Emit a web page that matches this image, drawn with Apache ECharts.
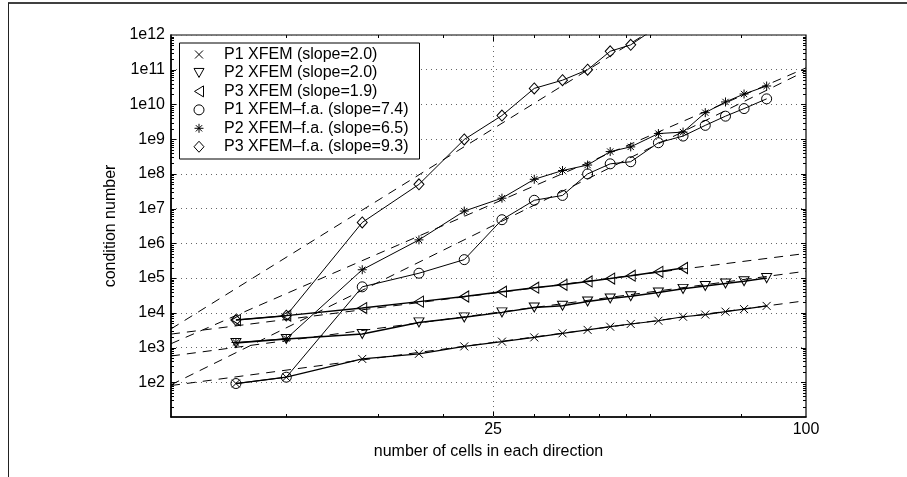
<!DOCTYPE html>
<html>
<head>
<meta charset="utf-8">
<script src="https://cdn.jsdelivr.net/npm/echarts@6/dist/echarts.min.js"></script>
<style>
html,body{margin:0;padding:0;background:#fff;}
#chart{width:907px;height:477px;}
</style>
</head>
<body>
<div id="chart"></div>
<script>
// ---- data ----
const cells = [8, 10, 14, 18, 22, 26, 30, 34, 38, 42, 46, 52, 58, 64, 70, 76, 84];
const p1Xfem = [92, 140, 470, 660, 1080, 1480, 1960, 2570, 3220, 3980, 4770, 5900, 7700, 8900, 10800, 12800, 15800];
const p2Xfem = [1350, 1770, 2450, 5300, 7400, 10300, 14300, 16000, 21300, 25800, 30000, 38600, 49000, 59000, 70000, 81000, 100000];
const p3Xfem = [6200, 8300, 13700, 21000, 29500, 40500, 53000, 64000, 80000, 97000, 117000, 152000, 195000];
const p1Fa = [92, 140, 56000, 138000, 340000, 4.8e6, 1.74e7, 2.4e7, 1.0e8, 1.95e8, 2.24e8, 7.9e8, 1.23e9, 2.5e9, 4.6e9, 7.6e9, 1.45e10];
const p2Fa = [1400, 1800, 1.74e5, 1.26e6, 8.5e6, 2.0e7, 7.0e7, 1.25e8, 1.8e8, 4.4e8, 6.0e8, 1.45e9, 1.6e9, 5.8e9, 1.18e10, 2.0e10, 3.4e10];
const p3Fa = [6200, 8300, 4.0e6, 5.0e7, 9.8e8, 4.8e9, 2.9e10, 5.0e10, 1.0e11, 3.4e11, 5.2e11, 1.8e12];
// dashed reference (fit) lines: value at left end and right end
const fitX = [6, 100];
const fitP1Xfem = [80.5, 22400];
const fitP2Xfem = [570, 158000];
const fitP3Xfem = [2440, 513000];
const fitP1Fa = [84.5, 9.3e10];
const fitP2Fa = [1290, 1.13e11];
const fitP3Fa = [3440, 7.9e14];
const legendNames = ['P1 XFEM (slope=2.0)', 'P2 XFEM (slope=2.0)', 'P3 XFEM (slope=1.9)',
  'P1 XFEM\u2013f.a. (slope=7.4)', 'P2 XFEM\u2013f.a. (slope=6.5)', 'P3 XFEM\u2013f.a. (slope=9.3)'];
const xTickLabels = [25, 100];
const xMinorTicks = [10, 15, 20, 30, 35, 40, 45, 50, 75];
const X_MIN = 6, X_MAX = 100, Y_MIN = 10, Y_MAX = 1e12;

// ---- styling ----
const FONT = '"Liberation Sans", Arial, Helvetica, sans-serif';
const PATHS = {
  x: 'path://M0,0L10,10M10,0L0,10',
  tdown: 'path://M0,0L10,0L5,9Z',
  tleft: 'path://M9,0L9,10L0,5Z',
  circle: 'circle',
  star: 'path://M5,0L5,10M0,5L10,5M1.5,1.5L8.5,8.5M8.5,1.5L1.5,8.5',
  diamond: 'path://M5,0L10,5L5,10L0,5Z'
};
const symSize = {x: [8, 8], tdown: [10, 9], tleft: [9, 11], circle: [10, 10], star: [9, 9], diamond: [10, 11]};
const legendSyms = ['x', 'tdown', 'tleft', 'circle', 'star', 'diamond'];
const markerStyle = {color: 'rgba(0,0,0,0)', borderColor: '#000', borderWidth: 1};

function pairs(xs, ys) { return ys.map((v, i) => [xs[i], v]); }

function dataSeries(name, ys, sym, lw) {
  return {
    name: name, type: 'line', data: pairs(cells, ys),
    symbol: PATHS[sym], symbolSize: symSize[sym],
    showSymbol: true, showAllSymbol: true,
    lineStyle: {color: '#000', width: lw}, itemStyle: markerStyle,
    clip: true, z: 5, silent: true
  };
}
function fitSeries(ys) {
  return {
    type: 'line', data: pairs(fitX, ys), symbol: 'none', clip: true, silent: true, z: 3,
    lineStyle: {color: '#000', width: 1, type: [9, 7]}
  };
}

// tick positions (axis decoration)
const yTicks = [];
for (let d = 1; d <= 11; d++) {
  for (let m = 1; m <= 9; m++) {
    const v = m * Math.pow(10, d);
    if (v <= Y_MIN || v >= Y_MAX) continue;
    yTicks.push([X_MIN, v, m === 1 ? 1 : 0]);
  }
}
const xTicks = xMinorTicks.map(v => [v, Y_MIN, 0]).concat([[25, Y_MIN, 1]]);

function ln(x1, y1, x2, y2, extra) {
  return Object.assign({type: 'line', shape: {x1, y1, x2, y2}, style: {stroke: '#000', lineWidth: 1}}, extra || {});
}

// legend icons built from simple shapes
const ICON_STYLE = {fill: 'none', stroke: '#000', lineWidth: 1};
function legendIcon(sym, cx, cy) {
  const s = symSize[sym], w = s[0] / 2, h = s[1] / 2;
  const g = {type: 'group', z: 101, silent: true, children: []};
  const poly = pts => ({type: 'polygon', z: 101, shape: {points: pts}, style: ICON_STYLE});
  const seg = (a, b, c, d) => ({type: 'line', z: 101, shape: {x1: a, y1: b, x2: c, y2: d}, style: ICON_STYLE});
  if (sym === 'x') g.children.push(seg(cx - w, cy - h, cx + w, cy + h), seg(cx + w, cy - h, cx - w, cy + h));
  if (sym === 'tdown') g.children.push(poly([[cx - w, cy - h], [cx + w, cy - h], [cx, cy + h]]));
  if (sym === 'tleft') g.children.push(poly([[cx + w, cy - h], [cx + w, cy + h], [cx - w, cy]]));
  if (sym === 'circle') g.children.push({type: 'circle', z: 101, shape: {cx: cx, cy: cy, r: w}, style: ICON_STYLE});
  if (sym === 'star') g.children.push(seg(cx, cy - h, cx, cy + h), seg(cx - w, cy, cx + w, cy),
    seg(cx - w * 0.7, cy - h * 0.7, cx + w * 0.7, cy + h * 0.7), seg(cx + w * 0.7, cy - h * 0.7, cx - w * 0.7, cy + h * 0.7));
  if (sym === 'diamond') g.children.push(poly([[cx, cy - h], [cx + w, cy], [cx, cy + h], [cx - w, cy]]));
  return g;
}

// legend box (drawn as graphic so its layout matches the picture)
const LEG = {left: 179, top: 42.5, width: 240, height: 116, iconX: 199, textX: 224, row0: 54.5, rowGap: 18.45};
const legendGraphic = [{
  type: 'rect', z: 100, silent: true,
  shape: {x: LEG.left + 0.5, y: LEG.top + 0.5, width: LEG.width, height: LEG.height},
  style: {fill: '#fff', stroke: '#000', lineWidth: 1}
}];
legendNames.forEach((name, i) => {
  const cy = LEG.row0 + i * LEG.rowGap;
  legendGraphic.push(legendIcon(legendSyms[i], LEG.iconX, cy));
  legendGraphic.push({
    type: 'text', z: 101, silent: true, x: LEG.textX, y: cy,
    style: {text: name, fill: '#000', font: '16px ' + FONT, verticalAlign: 'middle', align: 'left'}
  });
});

const chart = echarts.init(document.getElementById('chart'));
chart.setOption({
  animation: false,
  backgroundColor: '#fff',
  textStyle: {fontFamily: FONT},
  grid: {left: 171, right: 101, top: 35, bottom: 60, show: true, borderColor: '#000', borderWidth: 1.2, backgroundColor: 'transparent'},
  xAxis: {
    type: 'log', min: X_MIN, max: X_MAX,
    name: 'number of cells in each direction', nameLocation: 'middle', nameGap: 27,
    nameTextStyle: {fontSize: 16, color: '#000', fontFamily: FONT},
    axisLine: {show: true, lineStyle: {color: '#000', width: 1.5}},
    axisTick: {show: false},
    splitLine: {show: false},
    axisLabel: {customValues: xTickLabels, fontSize: 16, color: '#000', margin: 5, fontFamily: FONT,
      formatter: v => String(Math.round(v))}
  },
  yAxis: {
    type: 'log', min: Y_MIN, max: Y_MAX, interval: 1,
    name: 'condition number', nameLocation: 'middle', nameGap: 51,
    nameTextStyle: {fontSize: 16, color: '#000', fontFamily: FONT},
    axisLine: {show: true, lineStyle: {color: '#000', width: 1.5}},
    axisTick: {show: false},
    splitLine: {show: true, lineStyle: {color: '#666', width: 1, type: [1, 4]}},
    axisLabel: {fontSize: 16, color: '#000', margin: 6, fontFamily: FONT,
      formatter: v => { const e = Math.round(Math.log10(v)); return e <= 1 ? '' : '1e' + e; }}
  },
  graphic: [
    {type: 'line', shape: {x1: 8, y1: 3, x2: 907, y2: 3}, style: {stroke: '#000', lineWidth: 1.5}, silent: true},
    {type: 'line', shape: {x1: 8.5, y1: 3, x2: 8.5, y2: 477}, style: {stroke: '#222', lineWidth: 1}, silent: true}
  ].concat(legendGraphic),
  series: [
    fitSeries(fitP1Xfem), fitSeries(fitP2Xfem), fitSeries(fitP3Xfem),
    fitSeries(fitP1Fa), fitSeries(fitP2Fa), fitSeries(fitP3Fa),
    dataSeries(legendNames[0], p1Xfem, 'x', 1.2),
    dataSeries(legendNames[1], p2Xfem, 'tdown', 1.5),
    dataSeries(legendNames[2], p3Xfem, 'tleft', 1.5),
    dataSeries(legendNames[3], p1Fa, 'circle', 1),
    dataSeries(legendNames[4], p2Fa, 'star', 1),
    dataSeries(legendNames[5], p3Fa, 'diamond', 1),
    { // y-axis ticks (left and right, inward)
      type: 'custom', silent: true, z: 6, data: yTicks, encode: {x: 0, y: 1},
      renderItem: function (params, api) {
        const v = api.value(1), len = api.value(2) ? 5 : 3;
        const pl = api.coord([X_MIN, v]), pr = api.coord([X_MAX, v]);
        const y = Math.round(pl[1]) + 0.5;
        return {type: 'group', children: [ln(pl[0], y, pl[0] + len, y), ln(pr[0] - len, y, pr[0], y)]};
      }
    },
    { // x-axis ticks (bottom and top, inward) and grid line at 25
      type: 'custom', silent: true, z: 6, data: xTicks, encode: {x: 0, y: 1},
      renderItem: function (params, api) {
        const v = api.value(0), major = api.value(2), len = major ? 6 : 3;
        const pb = api.coord([v, Y_MIN]), pt = api.coord([v, Y_MAX]);
        const x = Math.round(pb[0]) + 0.5;
        const kids = [ln(x, pb[1], x, pb[1] - len), ln(x, pt[1], x, pt[1] + len)];
        if (major) kids.push(ln(x, pb[1], x, pt[1], {style: {stroke: '#666', lineWidth: 1, lineDash: [1, 4]}}));
        return {type: 'group', children: kids};
      }
    }
  ]
});
</script>
</body>
</html>
